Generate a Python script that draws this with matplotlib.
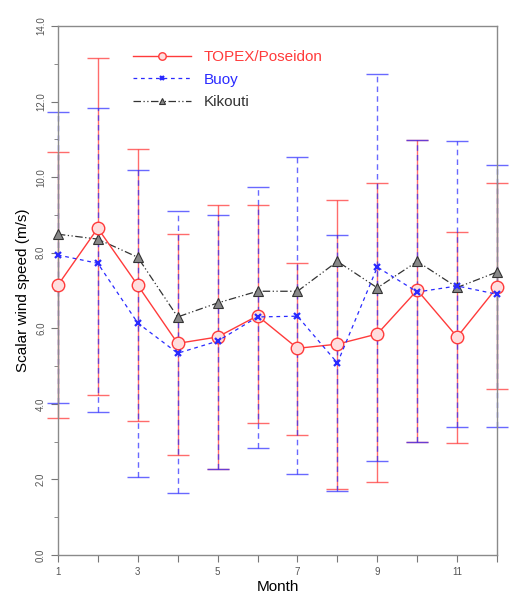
import matplotlib
matplotlib.use("Agg")
import matplotlib.pyplot as plt
import numpy as np
from matplotlib.ticker import MultipleLocator

plt.rcParams['font.family'] = ['Liberation Sans', 'DejaVu Sans']

months = [1, 2, 3, 4, 5, 6, 7, 8, 9, 10, 11, 12]

# mean wind speed (m/s)
topex = [7.14, 8.65, 7.14, 5.60, 5.77, 6.33, 5.47, 5.58, 5.85, 7.01, 5.77, 7.09]
buoy = [7.94, 7.72, 6.14, 5.34, 5.66, 6.30, 6.32, 5.08, 7.62, 6.96, 7.12, 6.90]
kikouti = [8.49, 8.36, 7.88, 6.30, 6.67, 6.98, 6.98, 7.77, 7.07, 7.77, 7.08, 7.49]

# error bar ends
topex_hi = [10.66, 13.15, 10.74, 8.49, 9.26, 9.26, 7.72, 9.39, 9.84, 10.98, 8.54, 9.84]
topex_lo = [3.62, 4.23, 3.54, 2.65, 2.28, 3.49, 3.17, 1.75, 1.93, 2.99, 2.96, 4.39]
buoy_hi = [11.72, 11.83, 10.20, 9.10, 9.00, 9.74, 10.53, 8.47, 12.72, 10.98, 10.95, 10.32]
buoy_lo = [4.02, 3.78, 2.06, 1.64, 2.28, 2.83, 2.14, 1.70, 2.49, 2.99, 3.39, 3.39]

red = '#ff3b3b'
blue = '#2a2aff'
dark = '#333333'

x = np.array(months)
t = np.array(topex)
b = np.array(buoy)
terr = [t - np.array(topex_lo), np.array(topex_hi) - t]
berr = [b - np.array(buoy_lo), np.array(buoy_hi) - b]

fig = plt.figure(figsize=(5.12, 5.97), dpi=100)
ax = fig.add_axes([0.113, 0.0704, 0.858, 0.886])

# error bars
eb1 = ax.errorbar(x, t, yerr=terr, fmt='none', ecolor=red, elinewidth=1.0,
                  capsize=8, capthick=1.0, alpha=0.75, zorder=2)
eb2 = ax.errorbar(x, b, yerr=berr, fmt='none', ecolor=blue, elinewidth=1.0,
                  capsize=8, capthick=1.0, alpha=0.7, zorder=2)
for lc in eb2[2]:
    lc.set_linestyle((0, (4, 3)))
for eb in (eb1, eb2):
    for art in list(eb[1]) + list(eb[2]):
        art.set_clip_on(False)

l1, = ax.plot(x, topex, color=red, lw=1.0, marker='o', ms=9, mfc='#ffdede',
              mec=red, mew=1.0, label='TOPEX/Poseidon', zorder=4)
l2, = ax.plot(x, buoy, color=blue, lw=0.9, ls=(0, (3, 3)), marker='x', ms=5,
              mew=1.6, label='Buoy', zorder=4)
l3, = ax.plot(x, kikouti, color=dark, lw=0.9, ls=(0, (6, 2, 1, 2, 1, 2)), marker='^',
              ms=7, mfc='#888888', mec=dark, mew=0.8, label='Kikouti', zorder=3)
for ln in (l1, l2, l3):
    ln.set_clip_on(False)

ax.set_xlim(1, 12)
ax.set_ylim(0, 14)
ax.set_xticks(months)
ax.set_xticklabels([str(m) if m % 2 == 1 else '' for m in months])
ax.yaxis.set_major_locator(MultipleLocator(2))
ax.yaxis.set_minor_locator(MultipleLocator(1))
ax.set_yticklabels(['%.1f' % v for v in ax.get_yticks()], rotation=90, va='center')

for s in ax.spines.values():
    s.set_color('#8a8a8a')
    s.set_linewidth(1.0)
ax.tick_params(axis='both', which='both', direction='out', colors='#777777',
               labelcolor='#555555', labelsize=7)
ax.tick_params(axis='both', which='major', length=5)
ax.tick_params(axis='y', which='minor', length=3)

ax.set_xlabel('Month', fontsize=11, labelpad=2)
ax.set_ylabel('Scalar wind speed (m/s)', fontsize=11)

leg = ax.legend(loc='upper left', bbox_to_anchor=(0.14, 0.98), frameon=False,
                fontsize=11, handlelength=3.8, labelspacing=0.55, markerscale=0.6)
for txt, c in zip(leg.get_texts(), [red, blue, dark]):
    txt.set_color(c)

fig.savefig('out.png', dpi=100)
